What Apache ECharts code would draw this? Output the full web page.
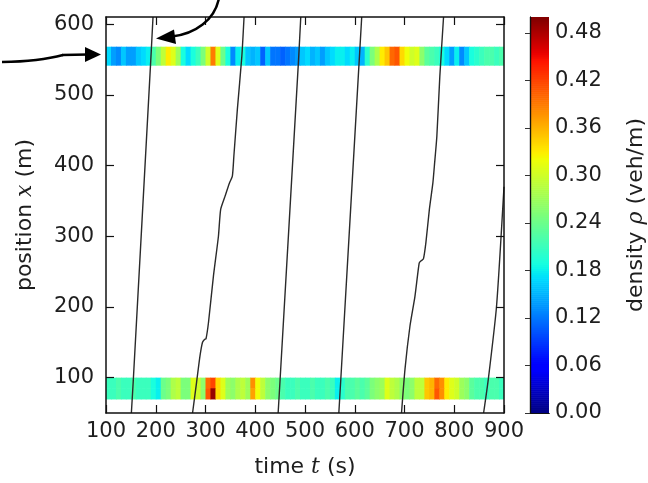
<!DOCTYPE html>
<html><head><meta charset="utf-8">
<script src="https://cdn.jsdelivr.net/npm/echarts@6/dist/echarts.min.js"></script>
<style>html,body{margin:0;padding:0;background:#fff}#c{width:648px;height:483px}</style>
</head><body><div id="c"></div>
<script>
// ---------- data ----------
const timeTicks = [100,200,300,400,500,600,700,800,900];
const positionTicks = [100,200,300,400,500,600];
const densityTicks = [0,0.06,0.12,0.18,0.24,0.30,0.36,0.42,0.48];
const cellSeconds = 10;
const cellStartTimes = Array.from({length: 80}, (_, i) => 100 + i * cellSeconds);

// density strip near x = 542..568 m
const topStripBounds = [542, 568];
const topStrip = [0.17,0.14,0.13,0.16,0.14,0.14,0.16,0.17,0.18,0.22,
  0.25,0.29,0.33,0.31,0.27,0.19,0.17,0.19,0.21,0.25,
  0.30,0.39,0.31,0.24,0.19,0.13,0.18,0.19,0.16,0.15,
  0.16,0.11,0.16,0.12,0.12,0.11,0.12,0.13,0.14,0.16,
  0.17,0.15,0.16,0.14,0.16,0.17,0.18,0.18,0.17,0.18,
  0.16,0.15,0.20,0.25,0.28,0.33,0.35,0.40,0.41,0.34,
  0.32,0.30,0.31,0.26,0.23,0.22,0.21,0.19,0.17,0.14,
  0.18,0.13,0.16,0.19,0.20,0.21,0.22,0.22,0.21,0.22];

// density strip near x = 70..100 m (upper and lower half)
const bottomUpperBounds = [85, 100];
const bottomUpper = [0.21,0.21,0.22,0.21,0.21,0.22,0.21,0.21,0.21,0.19,
  0.18,0.24,0.25,0.28,0.29,0.25,0.25,0.31,0.30,0.26,
  0.40,0.42,0.34,0.31,0.27,0.26,0.28,0.29,0.27,0.38,
  0.32,0.29,0.26,0.25,0.24,0.22,0.21,0.21,0.22,0.21,
  0.21,0.22,0.21,0.21,0.22,0.21,0.18,0.20,0.22,0.22,
  0.23,0.22,0.23,0.25,0.26,0.27,0.31,0.29,0.28,0.26,
  0.25,0.26,0.29,0.29,0.35,0.36,0.40,0.38,0.33,0.31,
  0.30,0.27,0.26,0.23,0.22,0.22,0.21,0.22,0.22,0.21];
const bottomLowerBounds = [70, 85];
const bottomLower = [0.21,0.21,0.22,0.21,0.21,0.22,0.21,0.21,0.21,0.19,
  0.18,0.24,0.25,0.28,0.29,0.25,0.25,0.31,0.30,0.26,
  0.41,0.49,0.34,0.31,0.27,0.26,0.28,0.29,0.27,0.37,
  0.32,0.29,0.26,0.25,0.24,0.22,0.21,0.21,0.22,0.21,
  0.21,0.22,0.21,0.21,0.22,0.21,0.18,0.20,0.22,0.22,
  0.23,0.22,0.23,0.25,0.26,0.27,0.31,0.29,0.28,0.26,
  0.25,0.26,0.29,0.29,0.35,0.36,0.41,0.38,0.33,0.31,
  0.30,0.27,0.26,0.23,0.22,0.22,0.21,0.22,0.22,0.21];

// vehicle trajectories [time s, position m]
const traj1 = [[151,50],[155,98],[190,549],[194.5,610]];
const traj2 = [[274,50],[282,93],[289,131],[294,150],[298,154],[301,155],[306,178],[316,244],[326,300],[330.5,338],[339,356],[348,375],[354,385],[357,413],[364,479],[373,554],[377.5,610]];
const traj3 = [[446,50],[450,98],[487,549],[491.5,610]];
const traj4 = [[568,50],[572,98],[609,549],[614,610]];
const traj5 = [[694,50],[701,112],[711,173],[721,215],[729.5,262],[733,265],[738,268],[743,291],[750,338],[757,375],[760,399],[765,441],[771,526],[778.5,610]];
const traj6 = [[859,50],[868.5,98],[885,201],[900,370]];
const trajectories = [traj1, traj2, traj3, traj4, traj5, traj6];

// ---------- jet colormap ----------
function interp(pts, v){
  for (let i = 1; i < pts.length; i++) {
    if (v <= pts[i][0]) {
      const a = pts[i-1], b = pts[i];
      return a[1] + (b[1]-a[1]) * (v-a[0]) / (b[0]-a[0]);
    }
  }
  return pts[pts.length-1][1];
}
function jet(v){
  const r = interp([[0,0],[0.35,0],[0.66,1],[0.89,1],[1,0.5]], v);
  const g = interp([[0,0],[0.125,0],[0.375,1],[0.64,1],[0.91,0],[1,0]], v);
  const b = interp([[0,0.5],[0.11,1],[0.34,1],[0.65,0],[1,0]], v);
  const h = x => Math.round(x*255).toString(16).padStart(2,'0');
  return '#' + h(r) + h(g) + h(b);
}
const jetColors = Array.from({length: 101}, (_, i) => jet(i/100));

// ---------- build cells ----------
function stripCells(values, bounds){
  return values.map((v, i) => [cellStartTimes[i], bounds[0], cellStartTimes[i] + cellSeconds, bounds[1], v]);
}
const heatCells = [].concat(
  stripCells(topStrip, topStripBounds),
  stripCells(bottomUpper, bottomUpperBounds),
  stripCells(bottomLower, bottomLowerBounds)
);
const colorbarLevels = Array.from({length: 200}, (_, k) => [0, k*0.0025, 1, (k+1)*0.0025, (k+0.5)*0.0025]);

function renderCell(params, api){
  const a = api.coord([api.value(0), api.value(3)]);
  const b = api.coord([api.value(2), api.value(1)]);
  return {
    type: 'rect',
    shape: {x: a[0], y: a[1], width: b[0]-a[0]+0.6, height: b[1]-a[1]+0.6},
    style: {fill: api.visual('color')}
  };
}

const FONT = 'DejaVu Sans';
const TXT = '#1e1e1e';
const LINE = '#111';
const richName = {
  a: {fontFamily: FONT, fontSize: 22, color: TXT},
  i: {fontFamily: 'DejaVu Serif', fontStyle: 'italic', fontSize: 22, color: TXT}
};

const chart = echarts.init(document.getElementById('c'), null, {renderer: 'canvas'});
const axisLineStyle = {show: true, lineStyle: {color: LINE, width: 1.5}};
const tickStyle = {show: true, inside: true, length: 8, lineStyle: {color: LINE, width: 1.2}};

chart.setOption({
  animation: false,
  backgroundColor: '#fff',
  grid: [
    {left: 106, top: 17, width: 398, height: 397},
    {left: 530, top: 17, width: 21, height: 396}
  ],
  visualMap: {
    type: 'continuous', show: false, min: 0, max: 0.5, dimension: 4,
    seriesIndex: [0, 1], inRange: {color: jetColors}
  },
  xAxis: [
    {gridIndex: 0, type: 'value', min: 100, max: 900, interval: 100, position: 'bottom', z: 10,
     axisLine: axisLineStyle, axisTick: tickStyle, splitLine: {show: false},
     axisLabel: {fontFamily: FONT, fontSize: 21, color: TXT, margin: 8},
     name: '{a|time }{i|t}{a| (s)}', nameLocation: 'middle', nameGap: 43,
     nameTextStyle: {rich: richName}},
    {gridIndex: 0, type: 'value', min: 100, max: 900, interval: 100, position: 'top', z: 10,
     axisLine: axisLineStyle, axisTick: tickStyle, splitLine: {show: false}, axisLabel: {show: false}},
    {gridIndex: 1, type: 'value', min: 0, max: 1, position: 'bottom', z: 10,
     axisLine: {show: true, lineStyle: {color: LINE, width: 1.2}}, axisTick: {show: false}, axisLabel: {show: false}, splitLine: {show: false}},
    {gridIndex: 1, type: 'value', min: 0, max: 1, position: 'top', z: 10,
     axisLine: {show: true, lineStyle: {color: LINE, width: 1.2}}, axisTick: {show: false}, axisLabel: {show: false}, splitLine: {show: false}}
  ],
  yAxis: [
    {gridIndex: 0, type: 'value', min: 50, max: 610, position: 'left', z: 10,
     axisLine: axisLineStyle,
     axisTick: Object.assign({customValues: positionTicks}, tickStyle),
     axisLabel: {customValues: positionTicks, fontFamily: FONT, fontSize: 21, color: TXT, margin: 12},
     splitLine: {show: false},
     name: '{a|position }{i|x}{a| (m)}', nameLocation: 'middle', nameGap: 70, nameRotate: 90,
     nameTextStyle: {rich: richName}},
    {gridIndex: 0, type: 'value', min: 50, max: 610, position: 'right', z: 10,
     axisLine: axisLineStyle,
     axisTick: Object.assign({customValues: positionTicks}, tickStyle),
     axisLabel: {show: false}, splitLine: {show: false}},
    {gridIndex: 1, type: 'value', min: 0, max: 0.5, position: 'right', z: 10,
     axisLine: {show: true, lineStyle: {color: LINE, width: 1.2}},
     axisTick: {show: true, inside: true, length: 5, customValues: densityTicks, lineStyle: {color: '#333', width: 1}},
     axisLabel: {customValues: densityTicks, fontFamily: FONT, fontSize: 21, color: TXT, margin: 6,
                 formatter: v => Number(v).toFixed(2)},
     splitLine: {show: false},
     name: '{a|density }{i|ρ}{a| (veh/m)}', nameLocation: 'middle', nameGap: 76, nameRotate: 90,
     nameTextStyle: {rich: richName}},
    {gridIndex: 1, type: 'value', min: 0, max: 0.5, position: 'left', z: 10,
     axisLine: {show: true, lineStyle: {color: LINE, width: 1.2}}, axisTick: {show: false}, axisLabel: {show: false}, splitLine: {show: false}}
  ],
  series: [
    {type: 'custom', xAxisIndex: 0, yAxisIndex: 0, data: heatCells, renderItem: renderCell, clip: true, z: 1,
     encode: {x: [0, 2], y: [1, 3]}},
    {type: 'custom', xAxisIndex: 2, yAxisIndex: 2, data: colorbarLevels, renderItem: renderCell, clip: true, z: 1,
     encode: {x: [0, 2], y: [1, 3]}}
  ].concat(trajectories.map(t => ({
    type: 'line', xAxisIndex: 0, yAxisIndex: 0, data: t, showSymbol: false, symbol: 'none',
    smooth: 0.2, clip: true, z: 3,
    lineStyle: {color: '#2a2a2a', width: 1.4}
  }))),
  graphic: [
    {type: 'bezierCurve', z: 100, shape: {x1: 2, y1: 62, cpx1: 35, cpy1: 61.5, cpx2: 52, cpy2: 58, x2: 63, y2: 55},
     style: {stroke: '#000', lineWidth: 2.5, fill: null}},
    {type: 'line', z: 100, shape: {x1: 62, y1: 55, x2: 88, y2: 54.5},
     style: {stroke: '#000', lineWidth: 2.5}},
    {type: 'polygon', z: 100, shape: {points: [[101,54.5],[85,47],[85,62]]}, style: {fill: '#000'}},
    {type: 'bezierCurve', z: 100, shape: {x1: 219, y1: -2, cpx1: 215, cpy1: 20, cpx2: 195, cpy2: 34, x2: 172, y2: 36.5},
     style: {stroke: '#000', lineWidth: 2.5, fill: null}},
    {type: 'polygon', z: 100, shape: {points: [[156,38.5],[174,29.5],[176,44]]}, style: {fill: '#000'}}
  ]
});
</script></body></html>
